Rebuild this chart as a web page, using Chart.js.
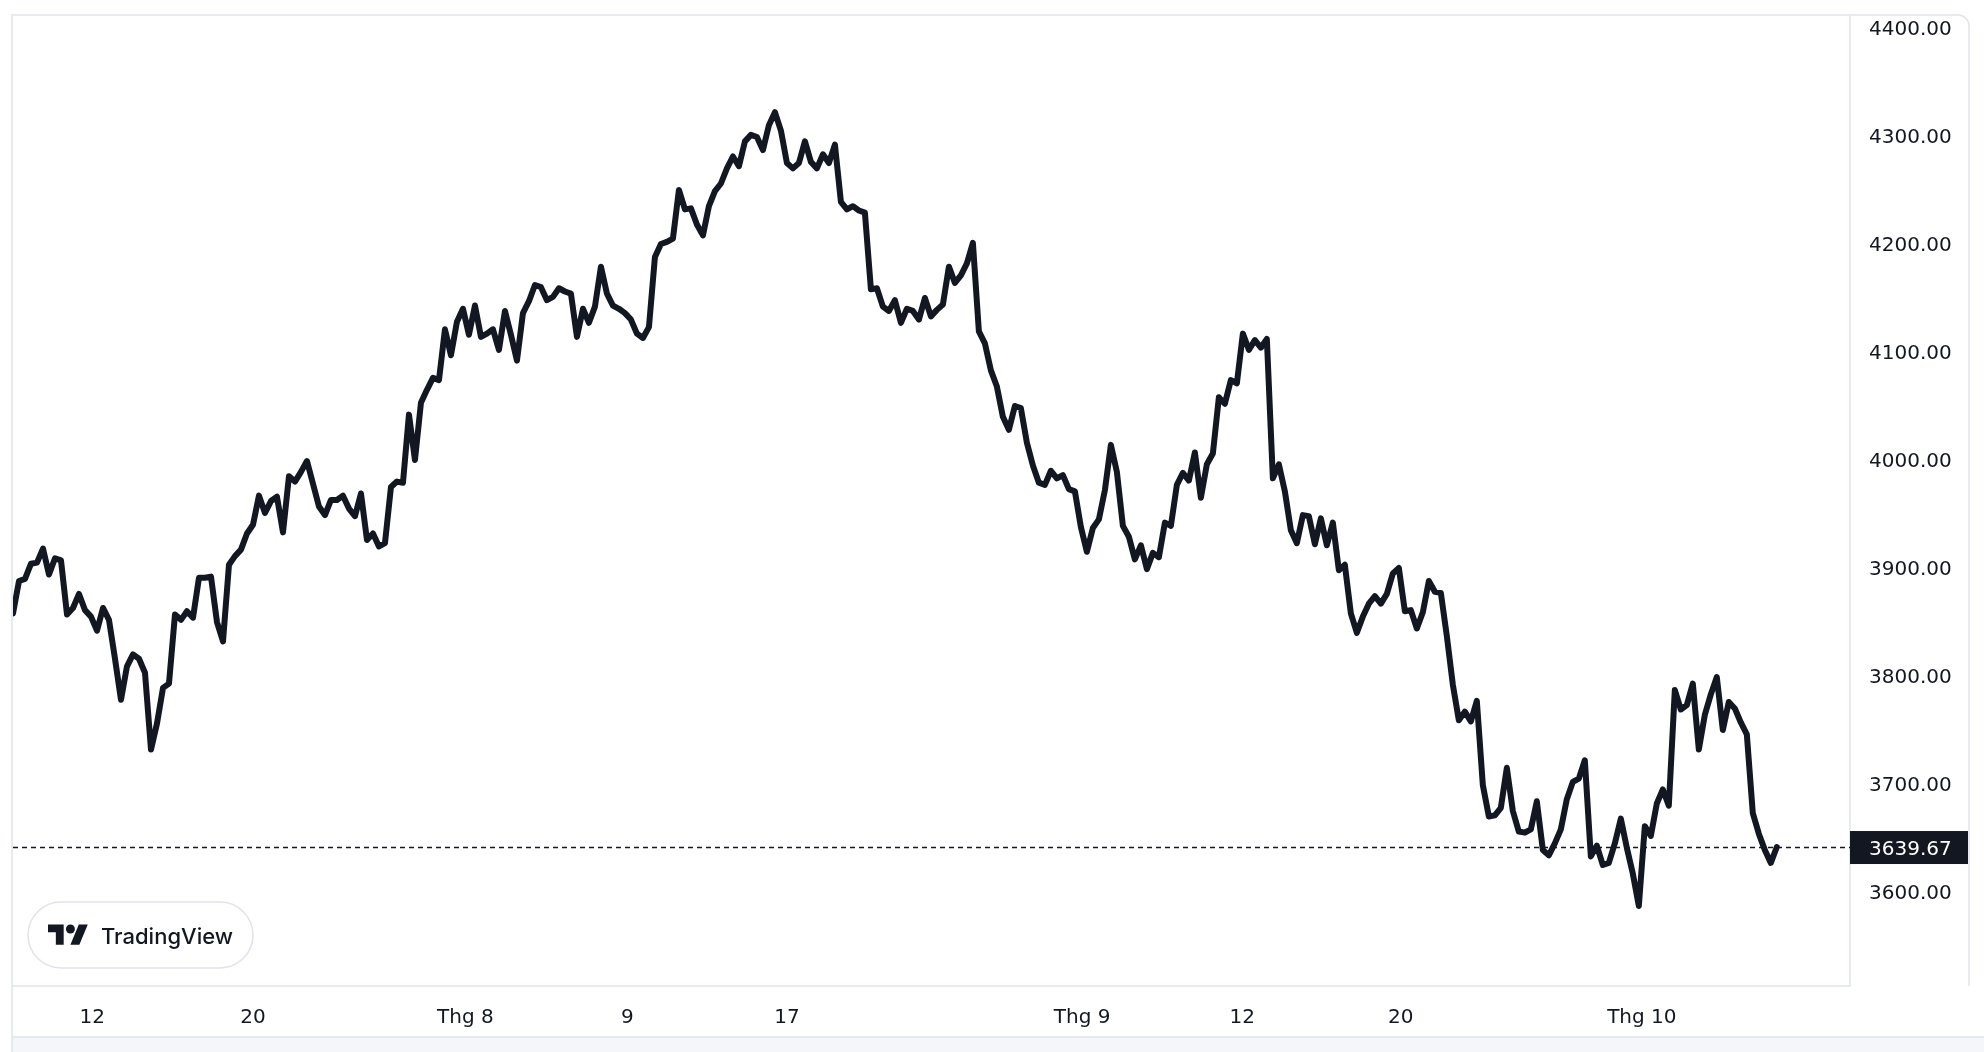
<!DOCTYPE html>
<html>
<head>
<meta charset="utf-8">
<title>Price chart</title>
<script src="https://cdn.jsdelivr.net/npm/chart.js@4.4.1/dist/chart.umd.min.js"></script>
<style>
  html, body { margin: 0; padding: 0; background: #ffffff; }
  #wrap { width: 1984px; height: 1052px; }
</style>
</head>
<body>
<div id="wrap"><canvas id="chart" width="1984" height="1052"></canvas></div>
<script>
// prices, evenly spaced samples
const julyPrices = [
  3856, 3886, 3888, 3902, 3903, 3916, 3892, 3907, 3905, 3855,
  3861, 3874, 3859, 3853, 3840, 3861, 3850, 3814, 3776, 3807,
  3818, 3814, 3801, 3730, 3754, 3787, 3791, 3855, 3850, 3858,
  3852, 3889, 3889, 3890, 3848, 3830, 3901, 3909, 3915, 3930,
  3938, 3965, 3949, 3960, 3964, 3931, 3983, 3978, 3987, 3997,
  3976, 3955, 3947, 3961, 3961, 3965, 3953, 3946, 3967, 3924,
  3930, 3918, 3921, 3973, 3978, 3977, 4040, 3998, 4051, 4063,
  4074, 4072, 4119, 4095, 4126, 4138
];
const augustPrices = [
  4114, 4141, 4112, 4115, 4119, 4100, 4136, 4114, 4090, 4134,
  4145, 4160, 4158, 4146, 4149, 4157, 4154, 4152, 4112, 4138,
  4125, 4140, 4177, 4152, 4141, 4138, 4134, 4128, 4115, 4111,
  4121, 4186, 4198, 4200, 4203, 4248, 4230, 4231, 4216, 4206,
  4233, 4247, 4254, 4268, 4279, 4270, 4293, 4299, 4297, 4285,
  4308, 4320, 4303, 4273, 4268, 4273, 4293, 4274, 4268, 4281,
  4273, 4290, 4237, 4230, 4233, 4229, 4227, 4156, 4157, 4140,
  4136, 4146, 4125, 4138, 4136, 4128, 4148, 4131, 4137, 4142,
  4177, 4162, 4169, 4180, 4199, 4117, 4106, 4081, 4066, 4038,
  4026, 4048, 4046, 4014, 3993, 3977, 3975, 3988, 3981, 3984,
  3971, 3969, 3936
];
const septemberPrices = [
  3913, 3935, 3943, 3970, 4012, 3987, 3937, 3927, 3906, 3919,
  3897, 3912, 3908, 3940, 3937, 3975, 3986, 3979, 4005, 3963,
  3994, 4004, 4056, 4050, 4072, 4069, 4115, 4100, 4109, 4102,
  4110, 3981, 3994, 3969, 3933, 3921, 3947, 3946, 3920, 3944,
  3919, 3940, 3896, 3901, 3856, 3838, 3853, 3865, 3872, 3865,
  3874, 3893, 3898, 3858, 3859, 3842, 3857, 3886, 3876, 3875,
  3835, 3790, 3757, 3765, 3756, 3775, 3697, 3668, 3669, 3676,
  3713, 3673, 3654, 3653, 3656, 3682, 3637, 3632, 3643, 3656,
  3684, 3700, 3703, 3720, 3631, 3641, 3623, 3625, 3643, 3666,
  3639, 3615, 3585
];
const octoberPrices = [
  3659, 3650, 3680, 3693, 3678, 3785, 3767, 3771, 3791, 3730,
  3762, 3781, 3797, 3748, 3774, 3768, 3755, 3744, 3671, 3652,
  3637, 3625, 3639.67
];
const lastPrice = 3639.67;

const priceTicks = [3600, 3700, 3800, 3900, 4000, 4100, 4200, 4300, 4400];
const timeTickIndex = [13.2, 40, 75.4, 102.4, 129, 178.2, 204.9, 231.3, 271.5];
const timeTickLabels = ['12', '20', 'Thg 8', '9', '17', 'Thg 9', '12', '20', 'Thg 10'];

const prices = [...julyPrices, ...augustPrices, ...septemberPrices, ...octoberPrices];
const points = prices.map((p, i) => ({ x: i, y: p }));

const INK = '#131722';
const LINE_GREY = '#e0e3eb';

Chart.defaults.font.family = "'DejaVu Sans', sans-serif";
Chart.defaults.color = INK;

// frame, last price line and tag, watermark badge
const tvDecor = {
  id: 'tvDecor',
  beforeDraw(chart) {
    const { ctx, chartArea: a, width, height } = chart;
    ctx.save();
    ctx.fillStyle = '#ffffff';
    ctx.fillRect(0, 0, width, height);
    ctx.fillStyle = '#f5f6fa';
    ctx.fillRect(12, 1037, width - 12, height - 1037);

    ctx.strokeStyle = LINE_GREY;
    ctx.lineWidth = 1.5;
    ctx.beginPath();
    ctx.moveTo(12, height);
    ctx.lineTo(12, 15);
    ctx.lineTo(1958, 15);
    ctx.arcTo(1969, 15, 1969, 26, 11);
    ctx.lineTo(1969, a.bottom);
    ctx.stroke();

    ctx.beginPath();
    ctx.moveTo(12, 1037);
    ctx.lineTo(width, 1037);
    ctx.stroke();

    ctx.beginPath();
    ctx.moveTo(12, a.bottom);
    ctx.lineTo(a.right, a.bottom);
    ctx.lineTo(a.right, 15);
    ctx.stroke();
    ctx.restore();
  },
  beforeDatasetsDraw(chart) {
    const { ctx, chartArea: a } = chart;
    const y = Math.round(chart.scales.y.getPixelForValue(lastPrice)) + 0.5;
    ctx.save();
    ctx.strokeStyle = INK;
    ctx.lineWidth = 1.5;
    ctx.setLineDash([5, 4]);
    ctx.beginPath();
    ctx.moveTo(a.left, y);
    ctx.lineTo(a.right, y);
    ctx.stroke();
    ctx.restore();
  },
  afterDraw(chart) {
    const { ctx, chartArea: a } = chart;
    const y = chart.scales.y.getPixelForValue(lastPrice);
    ctx.save();
    // price tag
    ctx.fillStyle = INK;
    ctx.fillRect(a.right, y - 16, 1968 - a.right, 33);
    ctx.fillStyle = '#ffffff';
    ctx.font = "20px 'DejaVu Sans', sans-serif";
    ctx.textAlign = 'left';
    ctx.textBaseline = 'middle';
    ctx.fillText(lastPrice.toFixed(2), a.right + 19, y + 3);

    // TradingView badge
    const bx = 28, by = 902, bw = 225, bh = 66;
    ctx.beginPath();
    ctx.roundRect(bx, by, bw, bh, bh / 2);
    ctx.fillStyle = '#ffffff';
    ctx.fill();
    ctx.strokeStyle = LINE_GREY;
    ctx.lineWidth = 1.5;
    ctx.stroke();

    ctx.translate(48, 920);
    ctx.scale(1.12, 1.12);
    ctx.fillStyle = INK;
    ctx.beginPath();
    ctx.moveTo(14, 22); ctx.lineTo(7, 22); ctx.lineTo(7, 11); ctx.lineTo(0, 11);
    ctx.lineTo(0, 4); ctx.lineTo(14, 4); ctx.closePath();
    ctx.fill();
    ctx.beginPath();
    ctx.arc(20, 8, 4, 0, Math.PI * 2);
    ctx.fill();
    ctx.beginPath();
    ctx.moveTo(28, 22); ctx.lineTo(20, 22); ctx.lineTo(27.5, 4); ctx.lineTo(35.5, 4);
    ctx.closePath();
    ctx.fill();
    ctx.setTransform(1, 0, 0, 1, 0, 0);

    ctx.font = "500 22px Inter, 'Noto Sans', sans-serif";
    ctx.textBaseline = 'alphabetic';
    ctx.fillText('TradingView', 101, 944);
    ctx.restore();
  }
};

new Chart(document.getElementById('chart').getContext('2d'), {
  type: 'line',
  data: {
    datasets: [{
      data: points,
      borderColor: INK,
      borderWidth: 6,
      borderJoinStyle: 'round',
      borderCapStyle: 'round',
      pointRadius: 0,
      tension: 0,
      fill: false
    }]
  },
  options: {
    responsive: false,
    animation: false,
    layout: { padding: { top: 15, left: 13, right: 0, bottom: 0 } },
    plugins: {
      legend: { display: false },
      tooltip: { enabled: false }
    },
    scales: {
      x: {
        type: 'linear',
        min: 0,
        max: 306.2,
        grid: { display: false, drawTicks: false },
        border: { display: false },
        afterBuildTicks: (s) => { s.ticks = timeTickIndex.map(v => ({ value: v })); },
        afterFit: (s) => { s.height = 66; s.paddingLeft = 0; s.paddingRight = 0; },
        ticks: {
          autoSkip: false,
          maxRotation: 0,
          padding: 20,
          font: { size: 20 },
          callback: (v, i) => timeTickLabels[i]
        }
      },
      y: {
        position: 'right',
        min: 3511,
        max: 4410,
        grid: { display: false, drawTicks: false },
        border: { display: false },
        afterBuildTicks: (s) => { s.ticks = priceTicks.map(v => ({ value: v })); },
        afterFit: (s) => { s.width = 134; s.paddingTop = 0; s.paddingBottom = 0; },
        ticks: {
          padding: 19,
          labelOffset: 4,
          font: { size: 20 },
          callback: (v) => Number(v).toFixed(2)
        }
      }
    }
  },
  plugins: [tvDecor]
});
</script>
</body>
</html>
